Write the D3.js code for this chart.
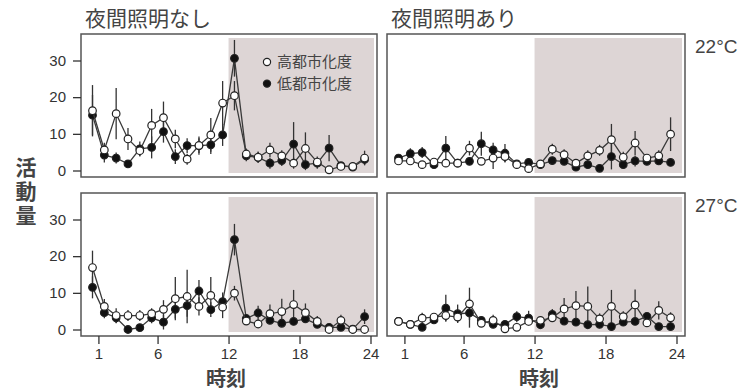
<!DOCTYPE html>
<html>
<head>
<meta charset="utf-8">
<script src="https://cdn.jsdelivr.net/npm/d3@7"></script>
<style>
  body { margin: 0; background: #fff; }
  text { font-family: "Liberation Sans", Arial, sans-serif; }
  .jp { font-family: "Noto Sans CJK JP", "Noto Sans", sans-serif; }
</style>
</head>
<body>
<svg id="chart" width="750" height="392"></svg>
<script>
// Hourly activity (mean ± SE) for two urbanization groups,
// with and without night lighting, at two temperatures.
const hours = d3.range(1, 25);
const xTickValues = [1, 6, 12, 18, 24];
const yTickValues = [0, 10, 20, 30];
const lightsOffHour = 12;
const seriesLabels = ["高都市化度", "低都市化度"];
const columnTitles = ["夜間照明なし", "夜間照明あり"];
const rowTitles = ["22°C", "27°C"];
const yAxisTitle = "活動量";
const xAxisTitle = "時刻";

// 22°C, no night lighting
const t22NoLightHigh   = [16.3, 5.6, 15.5, 8.6, 5.4, 12.3, 14.4, 8.6, 3.1, 6.8, 9.7, 18.4, 20.4, 4.5, 3.6, 5.6, 4.0, 2.0, 6.0, 2.3, 0.2, 1.1, 1.1, 3.4];
const t22NoLightHighSE = [7, 2, 7, 3, 1.5, 4.5, 4.4, 2.5, 1.5, 2.5, 4.6, 6, 4, 1.5, 1.5, 2, 1.5, 1.5, 4.4, 1.5, 1, 1, 1, 2];
const t22NoLightLow    = [15.1, 4.2, 3.4, 1.8, 5.9, 6.3, 10.6, 3.8, 6.8, 6.8, 7.0, 9.7, 30.6, 4.0, 3.6, 2.0, 2.7, 7.2, 1.6, 2.0, 6.1, 1.3, 0.9, 3.0];
const t22NoLightLowSE  = [5.5, 2, 1.5, 1, 2, 3, 3, 2, 2, 2, 2.5, 3, 5, 1.5, 1.5, 1.5, 1.5, 6, 1.5, 1.5, 3.6, 1, 1, 1.5];

// 22°C, night lighting
const t22LightHigh   = [2.6, 2.6, 1.6, 2.3, 2.0, 2.0, 6.1, 2.5, 3.4, 3.8, 1.6, 0.5, 1.8, 5.8, 4.3, 2.0, 4.0, 5.5, 8.4, 3.6, 7.5, 3.4, 4.0, 9.9];
const t22LightHighSE = [1, 1, 1, 1, 1, 1, 2, 1, 3, 1.5, 1, 1, 1, 1.5, 1.5, 1, 1.5, 1.5, 4.3, 1.5, 3.3, 1, 1.5, 4.6];
const t22LightLow    = [3.4, 4.6, 4.9, 1.6, 6.1, 2.0, 2.5, 7.3, 5.6, 4.7, 1.8, 2.2, 1.6, 2.7, 2.5, 0.9, 1.6, 0.6, 3.8, 1.6, 2.6, 2.5, 2.6, 2.2];
const t22LightLowSE  = [1, 1.5, 1.5, 1, 3.3, 1, 1, 3.3, 2, 2.5, 1, 1, 1, 1, 1, 1, 1, 1, 3.5, 1, 1.5, 1, 1, 1];

// 27°C, no night lighting
const t27NoLightHigh   = [16.9, 6.3, 3.8, 3.8, 3.8, 4.3, 5.5, 8.4, 9.0, 6.3, 9.3, 6.1, 9.9, 2.3, 1.5, 4.3, 4.9, 6.8, 4.6, 2.2, 0.0, 2.5, 0.0, 0.0];
const t27NoLightHighSE = [4.6, 2, 2, 1.5, 1.5, 1.5, 2.5, 5.9, 7.3, 2.5, 5, 3, 2, 1, 1, 2.5, 3.5, 4, 2.5, 1.5, 0.5, 1.5, 0.5, 0.5];
const t27NoLightLow    = [11.5, 4.6, 3.2, 0.0, 0.5, 3.2, 2.0, 5.5, 6.5, 10.5, 5.4, 7.6, 24.5, 3.0, 4.5, 2.5, 1.7, 2.2, 2.9, 1.4, 0.6, 0.6, 0.1, 3.5];
const t27NoLightLowSE  = [3, 1.5, 1.5, 0.5, 0.5, 1.5, 2, 2.5, 3, 3, 2, 2.5, 4.3, 1, 2, 1, 1, 1, 1, 1, 0.5, 0.5, 0.5, 2];

// 27°C, night lighting
const t27LightHigh   = [2.2, 1.4, 3.1, 3.4, 3.8, 3.4, 7.0, 1.7, 2.5, 0.2, 0.6, 2.2, 2.5, 3.2, 5.6, 6.5, 6.3, 2.9, 6.3, 3.5, 6.7, 1.8, 5.2, 3.2];
const t27LightHighSE = [0.5, 0.5, 1.5, 1, 1.5, 1.5, 4.4, 1, 1.5, 0.5, 0.5, 1, 1, 1, 3, 4, 5.4, 1.5, 4.5, 1.5, 4.2, 1, 2.5, 1.5];
const t27LightLow    = [2.2, 1.4, 0.6, 2.6, 5.8, 4.3, 4.5, 2.5, 1.4, 1.4, 3.5, 3.1, 1.3, 4.1, 2.3, 2.0, 1.3, 1.4, 0.8, 2.0, 2.2, 3.6, 0.8, 0.8];
const t27LightLowSE  = [0.5, 0.5, 0.5, 1, 3.7, 2.5, 4, 1, 1, 0.5, 1.5, 2, 0.5, 1.5, 1, 1, 1, 1, 1, 1, 1, 1, 1, 1];

const panels = [
  { row: 0, col: 0, high: t22NoLightHigh, highSE: t22NoLightHighSE, low: t22NoLightLow, lowSE: t22NoLightLowSE },
  { row: 0, col: 1, high: t22LightHigh,   highSE: t22LightHighSE,   low: t22LightLow,   lowSE: t22LightLowSE },
  { row: 1, col: 0, high: t27NoLightHigh, highSE: t27NoLightHighSE, low: t27NoLightLow, lowSE: t27NoLightLowSE },
  { row: 1, col: 1, high: t27LightHigh,   highSE: t27LightHighSE,   low: t27LightLow,   lowSE: t27LightLowSE }
];

const colX = [81, 387];
const colW = [296, 298];
const rowY = [34, 193];
const panelH = 143;
const ink = "#333";

const svg = d3.select("#chart");

// hourly means are plotted at the middle of each hour bin
const x = d3.scaleLinear().domain([0.5, 24]).range([11.5, 289.5]);
const y = d3.scaleLinear().domain([0, 30]).range([136.5, 26.5]);

panels.forEach(p => {
  const w = colW[p.col];
  const g = svg.append("g").attr("transform", `translate(${colX[p.col]},${rowY[p.row]})`);

  // dark period
  g.append("rect")
    .attr("x", x(lightsOffHour)).attr("y", 4)
    .attr("width", w - 3 - x(lightsOffHour)).attr("height", panelH - 8)
    .attr("fill", "#ddd5d5");

  g.append("rect")
    .attr("width", w).attr("height", panelH)
    .attr("fill", "none").attr("stroke", "#555").attr("stroke-width", 1.5);

  const series = [
    { vals: p.low, se: p.lowSE, fill: "#111" },
    { vals: p.high, se: p.highSE, fill: "#fff" }
  ];
  const pts = s => hours.map((h, i) => ({ h: h - 0.5, v: s.vals[i], e: s.se[i] }));

  // error bars
  series.forEach(s => {
    g.append("g").selectAll("line").data(pts(s)).join("line")
      .attr("x1", d => x(d.h)).attr("x2", d => x(d.h))
      .attr("y1", d => y(Math.max(0, d.v - d.e))).attr("y2", d => y(d.v + d.e))
      .attr("stroke", ink).attr("stroke-width", 1.3);
  });

  const line = d3.line().x(d => x(d.h)).y(d => y(d.v));
  series.forEach(s => {
    g.append("path").datum(pts(s)).attr("d", line)
      .attr("fill", "none").attr("stroke", "#3a3a3a").attr("stroke-width", 1.3);
    g.append("g").selectAll("circle").data(pts(s)).join("circle")
      .attr("cx", d => x(d.h)).attr("cy", d => y(d.v)).attr("r", 3.8)
      .attr("fill", s.fill).attr("stroke", "#222").attr("stroke-width", 1.2);
  });

  if (p.col === 0) {
    const ax = g.append("g").call(d3.axisLeft(y).tickValues(yTickValues).tickSize(8).tickPadding(7));
    ax.select(".domain").remove();
    ax.selectAll("line").attr("stroke", ink).attr("stroke-width", 1.3);
    ax.selectAll("text").attr("font-size", 15).attr("fill", ink)
      .style("font-family", "'Liberation Sans', Arial, sans-serif");
  }
  if (p.row === 1) {
    const ax = g.append("g").attr("transform", `translate(0,${panelH})`)
      .call(d3.axisBottom(x).tickValues(xTickValues).tickSize(8).tickPadding(4));
    ax.select(".domain").remove();
    ax.selectAll("line").attr("stroke", ink).attr("stroke-width", 1.3);
    ax.selectAll("text").attr("font-size", 15).attr("fill", ink)
      .style("font-family", "'Liberation Sans', Arial, sans-serif");

    svg.append("text").attr("class", "jp")
      .attr("x", colX[p.col] + w / 2 + (p.col === 0 ? -3 : 3)).attr("y", 385.5)
      .attr("text-anchor", "middle").attr("font-size", 20).attr("font-weight", 700)
      .attr("fill", "#444").text(xAxisTitle);
  }
  if (p.row === 0) {
    svg.append("text").attr("class", "jp")
      .attr("x", colX[p.col] + 4).attr("y", 26)
      .attr("font-size", 21).attr("fill", "#444").text(columnTitles[p.col]);
  }
  if (p.col === 1) {
    svg.append("text")
      .attr("x", 695).attr("y", rowY[p.row] + 18.5)
      .attr("font-size", 19).attr("fill", "#444").text(rowTitles[p.row]);
  }
  if (p.row === 0 && p.col === 0) {
    const lg = g.append("g").attr("transform", "translate(186,28)");
    ["#fff", "#111"].forEach((f, i) => {
      lg.append("circle").attr("cx", 0).attr("cy", i * 21.6).attr("r", 3.6)
        .attr("fill", f).attr("stroke", "#222").attr("stroke-width", 1.2);
      lg.append("text").attr("class", "jp").attr("x", 10).attr("y", i * 21.6)
        .attr("dy", "0.35em").attr("font-size", 15).attr("fill", "#444")
        .text(seriesLabels[i]);
    });
  }
});

// vertical y-axis title, set top to bottom
svg.append("text").attr("class", "jp")
  .attr("x", 26).attr("y", 193)
  .style("writing-mode", "vertical-rl")
  .attr("text-anchor", "middle")
  .attr("letter-spacing", 3)
  .attr("font-size", 21).attr("font-weight", 700).attr("fill", "#444")
  .text(yAxisTitle);
</script>
</body>
</html>
